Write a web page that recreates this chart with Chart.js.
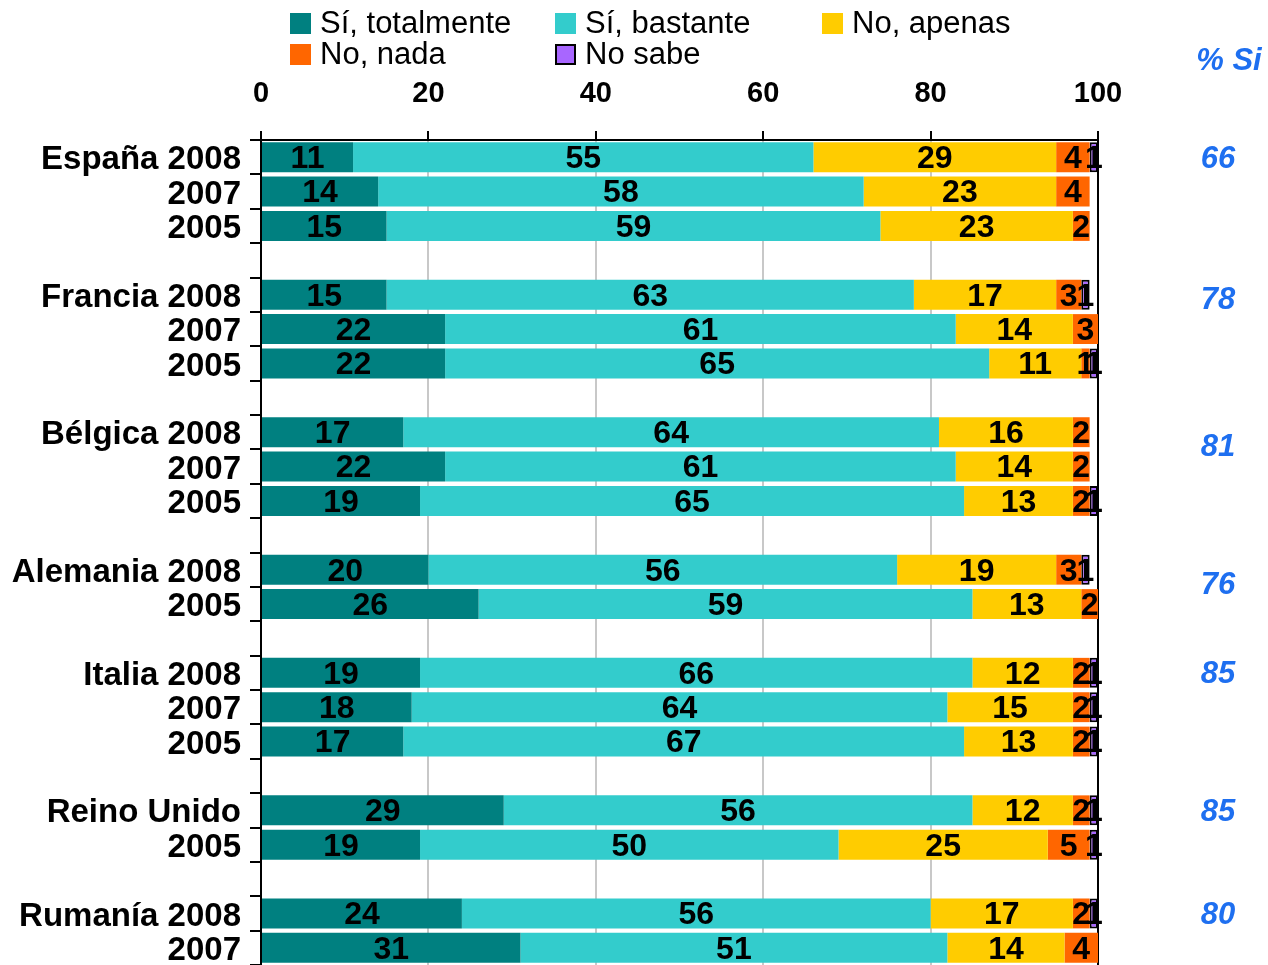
<!DOCTYPE html>
<html>
<head>
<meta charset="utf-8">
<script src="https://cdn.jsdelivr.net/npm/chart.js@4.4.1/dist/chart.umd.min.js"></script>
<style>
  html, body { margin: 0; padding: 0; background: #fff; }
</style>
</head>
<body>
<canvas id="chart" width="1268" height="965"></canvas>
<script>
// rows of the chart, '' = spacer row between countries
const rowLabels = ['España 2008', '2007', '2005', '',
  'Francia 2008', '2007', '2005', '',
  'Bélgica 2008', '2007', '2005', '',
  'Alemania 2008', '2005', '',
  'Italia 2008', '2007', '2005', '',
  'Reino Unido', '2005', '',
  'Rumanía 2008', '2007'];

const totalmente = [11, 14, 15, null, 15, 22, 22, null, 17, 22, 19, null, 20, 26, null, 19, 18, 17, null, 29, 19, null, 24, 31];
const bastante   = [55, 58, 59, null, 63, 61, 65, null, 64, 61, 65, null, 56, 59, null, 66, 64, 67, null, 56, 50, null, 56, 51];
const apenas     = [29, 23, 23, null, 17, 14, 11, null, 16, 14, 13, null, 19, 13, null, 12, 15, 13, null, 12, 25, null, 17, 14];
const nada       = [4, 4, 2, null, 3, 3, 1, null, 2, 2, 2, null, 3, 2, null, 2, 2, 2, null, 2, 5, null, 2, 4];
const noSabe     = [1, null, null, null, 1, null, 1, null, null, null, 1, null, 1, null, null, 1, 1, 1, null, 1, 1, null, 1, null];

const seriesNames = ['Sí, totalmente', 'Sí, bastante', 'No, apenas', 'No, nada', 'No sabe'];
const seriesColors = ['#008080', '#33CCCC', '#FFCC00', '#FF6600', '#A866FF'];

// "% Si" column on the right and the row it sits beside
const pctSi = [66, 78, 81, 76, 85, 85, 80];
const pctSiRow = [0, 4.1, 8.4, 12.4, 15, 19, 22];

const xTicks = [0, 20, 40, 60, 80, 100];

const FONT = '"Liberation Sans", Arial, Helvetica, sans-serif';
Chart.defaults.font.family = FONT;
Chart.defaults.color = '#000';

const series = [totalmente, bastante, apenas, nada, noSabe];

const overlay = {
  id: 'overlay',
  afterDatasetsDraw(chart) {
    const ctx = chart.ctx;
    ctx.save();
    ctx.fillStyle = '#000';
    ctx.textAlign = 'center';
    ctx.textBaseline = 'middle';
    ctx.font = 'bold 32px ' + FONT;
    chart.data.datasets.forEach((ds, i) => {
      chart.getDatasetMeta(i).data.forEach((bar, j) => {
        const v = ds.data[j];
        if (v == null) return;
        ctx.fillText(String(v), (bar.x + bar.base) / 2, bar.y + 2);
      });
    });
    ctx.restore();
  },
  afterDraw(chart) {
    const ctx = chart.ctx;
    const yScale = chart.scales.y;
    ctx.save();

    // right column
    ctx.fillStyle = '#1E6FF0';
    ctx.textAlign = 'center';
    ctx.textBaseline = 'middle';
    ctx.font = 'italic bold 31px ' + FONT;
    ctx.fillText('% Si', 1229, 61);
    pctSi.forEach((v, i) => {
      ctx.fillText(String(v), 1218, yScale.getPixelForValue(pctSiRow[i]) + 2);
    });

    // legend, 3 columns
    const colX = [290, 555, 822];
    const rowY = [23, 54];
    ctx.textAlign = 'left';
    ctx.font = '31px ' + FONT;
    seriesNames.forEach((name, i) => {
      const x = colX[i % 3];
      const y = rowY[Math.floor(i / 3)];
      ctx.fillStyle = seriesColors[i];
      ctx.fillRect(x, y - 10, 21, 21);
      if (i === 4) {
        ctx.strokeStyle = '#000';
        ctx.lineWidth = 2;
        ctx.strokeRect(x + 1, y - 9, 19, 19);
      }
      ctx.fillStyle = '#000';
      ctx.fillText(name, x + 30, y + 1);
    });
    ctx.restore();
  }
};

new Chart(document.getElementById('chart'), {
  type: 'bar',
  data: {
    labels: rowLabels,
    datasets: series.map((d, i) => ({
      label: seriesNames[i],
      data: d,
      backgroundColor: seriesColors[i],
      borderColor: '#000',
      borderWidth: i === 4 ? 2 : 0,
      borderSkipped: false,
      barPercentage: 0.87,
      categoryPercentage: 1
    }))
  },
  options: {
    indexAxis: 'y',
    responsive: false,
    animation: false,
    layout: { padding: { left: 0, right: 170, top: 0, bottom: 0 } },
    scales: {
      x: {
        position: 'top',
        stacked: true,
        min: 0,
        max: 100,
        afterBuildTicks: s => { s.ticks = xTicks.map(v => ({ value: v })); },
        ticks: { font: { size: 29, weight: 'bold' }, padding: 20, color: '#000' },
        grid: {
          color: c => (c.tick && (c.tick.value === 0 || c.tick.value === 100)) ? '#000' : '#C8C8C8',
          lineWidth: 2,
          tickColor: '#000',
          tickLength: 9
        },
        border: { color: '#000', width: 2 },
        afterFit: s => { s.height = 140; s.paddingLeft = 0; s.paddingRight = 0; }
      },
      y: {
        stacked: true,
        ticks: { autoSkip: false, font: { size: 33, weight: 'bold' }, padding: 9, labelOffset: 3, color: '#000' },
        grid: { drawOnChartArea: false, tickColor: '#000', tickLength: 11, lineWidth: 2 },
        border: { color: '#000', width: 2 },
        afterFit: s => { s.width = 261; s.paddingTop = 0; s.paddingBottom = 0; }
      }
    },
    plugins: {
      legend: { display: false },
      tooltip: { enabled: false }
    }
  },
  plugins: [overlay]
});
</script>
</body>
</html>
